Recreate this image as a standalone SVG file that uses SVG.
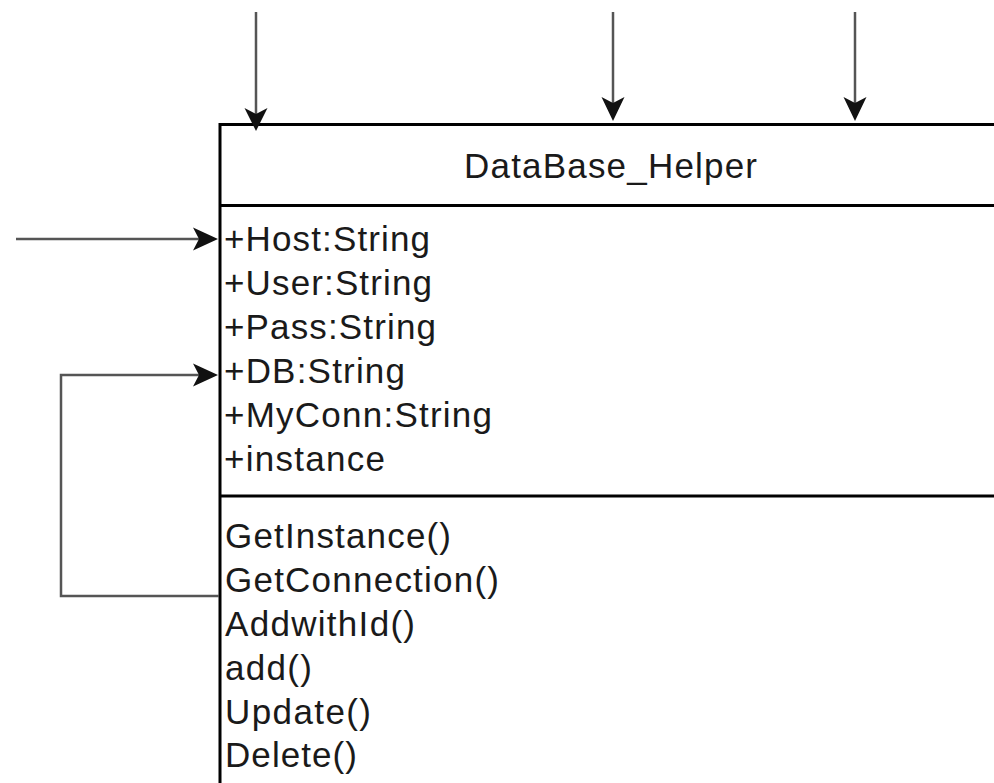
<svg xmlns="http://www.w3.org/2000/svg" width="994" height="783" viewBox="0 0 994 783">
  <style>
    .edge { fill: none; stroke: #555; stroke-width: 2.5; }
    .head { fill: #111; stroke: none; }
    .frame { fill: #fff; stroke: #000; stroke-width: 3; }
    .rule { stroke: #000; stroke-width: 3; }
    .txt { font-family: "Liberation Sans", Arial, sans-serif; font-size: 35px; fill: #1a1a1a; }
  </style>
  <rect width="994" height="783" fill="#fff"/>

  <!-- class box -->
  <g id="database-helper">
    <rect class="frame" x="220" y="124.5" width="800" height="700"/>
    <line class="rule" x1="220" y1="205.5" x2="1000" y2="205.5"/>
    <line class="rule" x1="220" y1="496" x2="1000" y2="496"/>
    <text class="txt" x="464" y="178" textLength="293" lengthAdjust="spacing">DataBase_Helper</text>
    <text class="txt" x="224" y="251" textLength="206" lengthAdjust="spacing">+Host:String</text>
    <text class="txt" x="224" y="295" textLength="208" lengthAdjust="spacing">+User:String</text>
    <text class="txt" x="224" y="339" textLength="212" lengthAdjust="spacing">+Pass:String</text>
    <text class="txt" x="224" y="383" textLength="181" lengthAdjust="spacing">+DB:String</text>
    <text class="txt" x="224" y="427" textLength="268" lengthAdjust="spacing">+MyConn:String</text>
    <text class="txt" x="224" y="471" textLength="161" lengthAdjust="spacing">+instance</text>
    <text class="txt" x="225" y="548" textLength="226" lengthAdjust="spacing">GetInstance()</text>
    <text class="txt" x="225" y="592" textLength="274" lengthAdjust="spacing">GetConnection()</text>
    <text class="txt" x="225" y="636" textLength="190" lengthAdjust="spacing">AddwithId()</text>
    <text class="txt" x="225" y="680" textLength="87" lengthAdjust="spacing">add()</text>
    <text class="txt" x="225" y="724" textLength="146" lengthAdjust="spacing">Update()</text>
    <text class="txt" x="225" y="767" textLength="132" lengthAdjust="spacing">Delete()</text>
  </g>

  <!-- connectors -->
  <g id="connectors">
    <line class="edge" x1="256" y1="12" x2="256" y2="118"/>
    <path class="head" d="M256 131 L244.5 108 L256 114 L267.5 108 Z"/>

    <line class="edge" x1="613" y1="12" x2="613" y2="108"/>
    <path class="head" d="M613 121 L601.5 97 L613 103 L624.5 97 Z"/>

    <line class="edge" x1="855" y1="12" x2="855" y2="108"/>
    <path class="head" d="M855 121 L843.5 97 L855 103 L866.5 97 Z"/>

    <line class="edge" x1="16" y1="239" x2="205" y2="239"/>
    <path class="head" d="M218 239 L193 227.5 L199 239 L193 250.5 Z"/>

    <path class="edge" d="M219 596 H61 V375 H205"/>
    <path class="head" d="M218 375 L193 363.5 L199 375 L193 386.5 Z"/>
  </g>
</svg>
